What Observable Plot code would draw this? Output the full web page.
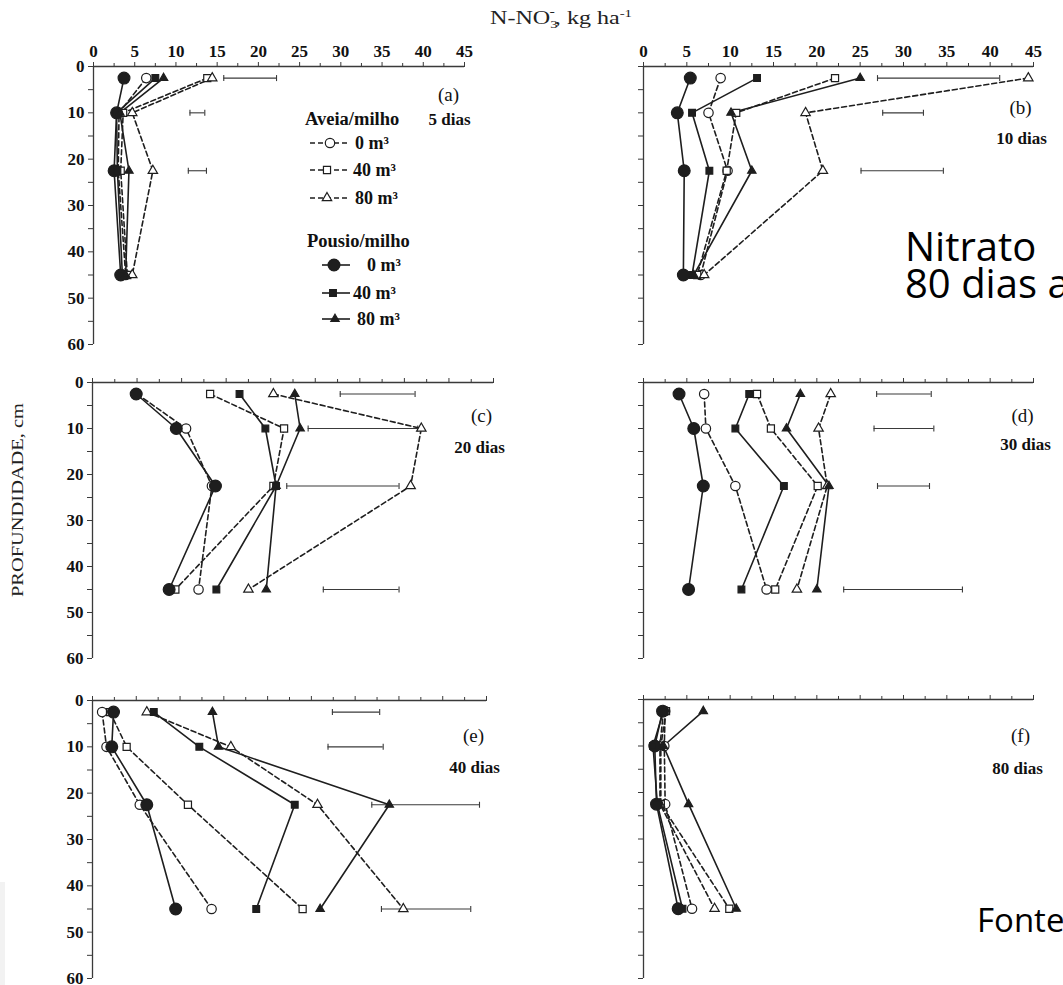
<!DOCTYPE html>
<html>
<head>
<meta charset="utf-8">
<script src="https://cdn.jsdelivr.net/npm/d3@7"></script>
<script src="https://cdn.jsdelivr.net/npm/@observablehq/plot@0.6"></script>
<style>
  html, body { margin: 0; padding: 0; background: #fff; }
  #root { position: relative; width: 1063px; height: 985px; overflow: hidden; background: #fff; }
  .panel { position: absolute; }
  .slide { position: absolute; font-family: "Open Sans", "Noto Sans", sans-serif; color: #000; white-space: nowrap; }
</style>
</head>
<body>
<div id="root"></div>
<script>
// ---------------- DATA ----------------
const depths = [2.5, 10, 22.5, 45];                 // cm
const panelIds = ["a", "b", "c", "d", "e", "f"];
const panelTags = ["(a)", "(b)", "(c)", "(d)", "(e)", "(f)"];
const panelDays = ["5 dias", "10 dias", "20 dias", "30 dias", "40 dias", "80 dias"];
const groupNames = ["Aveia/milho", "Pousio/milho"];
const doseLabels = ["0 m³", "40 m³", "80 m³"];
const xTicks = [0, 5, 10, 15, 20, 25, 30, 35, 40, 45];
const xMinorTicks = [2.5, 7.5, 12.5, 17.5, 22.5, 27.5, 32.5, 37.5, 42.5];
const yTicks = [0, 10, 20, 30, 40, 50, 60];
const yMinorTicks = [5, 15, 25, 35, 45, 55];

// N-NO3 (kg/ha) per panel (a..f), per depth (2.5, 10, 22.5, 45)
const aveia0 = [
  [6.4, 3.1, 3.0, 3.9], [8.9, 7.5, 9.7, 6.6], [5.0, 10.5, 13.4, 11.9],
  [7.0, 7.2, 10.6, 14.2], [1.1, 1.6, 5.4, 13.6], [2.5, 2.4, 2.5, 5.6]];
const aveia40 = [
  [13.8, 3.6, 3.3, 4.1], [22.1, 10.7, 9.6, 6.2], [13.2, 21.5, 20.3, 9.3],
  [13.1, 14.7, 20.1, 15.2], [2.0, 3.9, 10.9, 24.0], [2.6, 2.0, 2.0, 9.9]];
const aveia80 = [
  [14.4, 4.7, 7.2, 4.7], [44.4, 18.7, 20.7, 7.0], [20.3, 36.9, 35.7, 17.5],
  [21.6, 20.2, 21.2, 17.7], [6.2, 15.8, 25.7, 35.5], [2.3, 1.9, 1.9, 8.2]];
const pousio0 = [
  [3.7, 2.8, 2.5, 3.3], [5.4, 3.9, 4.7, 4.6], [4.9, 9.4, 13.8, 8.6],
  [4.1, 5.8, 6.9, 5.2], [2.4, 2.2, 6.2, 9.5], [2.2, 1.3, 1.5, 4.0]];
const pousio40 = [
  [7.5, 2.8, 2.9, 3.5], [13.1, 5.6, 7.6, 5.6], [16.5, 19.4, 20.6, 13.9],
  [12.2, 10.6, 16.2, 11.3], [7.0, 12.2, 23.1, 18.7], [2.3, 1.1, 1.6, 4.5]];
const pousio80 = [
  [8.5, 3.2, 4.3, 3.9], [25.0, 10.1, 12.5, 5.8], [22.7, 23.3, 20.6, 19.5],
  [18.1, 16.5, 21.4, 20.0], [13.7, 14.4, 33.9, 26.0], [6.9, 2.3, 5.2, 10.7]];

// LSD bars [low, high] per panel, per depth (null = none)
const lsdBars = [
  [[15.8, 22.2], [11.7, 13.5], [11.5, 13.7], null],
  [[27.0, 41.1], [27.6, 32.3], [25.1, 34.6], null],
  [[27.8, 36.2], [24.2, 36.5], [21.8, 34.4], [25.9, 34.4]],
  [[26.9, 33.2], [26.6, 33.5], [27.0, 33.0], [23.1, 36.8]],
  [[27.4, 32.8], [26.9, 33.2], [31.9, 44.2], [33.0, 43.2]],
  [null, null, null, null]];

const seriesKeys = ["aveia0", "aveia40", "aveia80", "pousio0", "pousio40", "pousio80"];
const seriesValues = {aveia0, aveia40, aveia80, pousio0, pousio40, pousio80};

// ---------------- STYLE / LAYOUT ----------------
const ink = "#1e1e1e";
const axisInk = "#3a3a3a";
const serif = "'Liberation Serif', 'Times New Roman', 'DejaVu Serif', serif";
const seriesStyle = {
  aveia0:   {symbol: "circle",   fill: "white", r: 4.7, dash: "5,3"},
  aveia40:  {symbol: "square",   fill: "white", r: 4.0, dash: "5,3"},
  aveia80:  {symbol: "triangle", fill: "white", r: 3.5, dash: "5,3"},
  pousio0:  {symbol: "circle",   fill: ink,     r: 5.9, dash: null},
  pousio40: {symbol: "square",   fill: ink,     r: 3.8, dash: null},
  pousio80: {symbol: "triangle", fill: ink,     r: 3.1, dash: null}
};
const layout = [
  {left: 93,  right: 464,  top: 66,  bottom: 344, yLabels: true,  xLabels: true,  tag: [-16, 21], days: [-15, 46]},
  {left: 643, right: 1033, top: 66,  bottom: 344, yLabels: false, xLabels: true,  tag: [-13, 34], days: [-12, 65]},
  {left: 92,  right: 493,  top: 382, bottom: 658, yLabels: true,  xLabels: false, tag: [-12, 26], days: [-14, 58]},
  {left: 643, right: 1033, top: 382, bottom: 658, yLabels: false, xLabels: false, tag: [-11, 26], days: [-8, 55]},
  {left: 92,  right: 486,  top: 700, bottom: 978, yLabels: true,  xLabels: false, tag: [-13, 28], days: [-12, 60]},
  {left: 643, right: 1033, top: 699, bottom: 978, yLabels: false, xLabels: false, tag: [-13, 29], days: [-16, 62]}
];
const M = {left: 50, top: 36, right: 48, bottom: 6};
const tickFont = {fontSize: 17, fontWeight: "bold", fontFamily: serif, fill: "#111"};

// build tidy tables
const rows = [];
seriesKeys.forEach(k => panelIds.forEach((p, pi) => depths.forEach((d, di) => {
  rows.push({panel: p, series: k, depth: d, value: seriesValues[k][pi][di]});
})));
const bars = [];
panelIds.forEach((p, pi) => depths.forEach((d, di) => {
  const b = lsdBars[pi][di];
  if (b) bars.push({panel: p, depth: d, lo: b[0], hi: b[1]});
}));
const caps = bars.flatMap(b => [{panel: b.panel, depth: b.depth, x: b.lo}, {panel: b.panel, depth: b.depth, x: b.hi}]);

const capSymbol = {draw(ctx) { ctx.moveTo(0, -3); ctx.lineTo(0, 3); }};

const root = document.getElementById("root");

panelIds.forEach((p, pi) => {
  const L = layout[pi];
  const w = L.right - L.left + M.left + M.right;
  const h = L.bottom - L.top + M.top + M.bottom;
  const pr = rows.filter(r => r.panel === p);
  const marks = [
    Plot.ruleY([0], {stroke: axisInk, strokeWidth: 1.3}),
    Plot.ruleX([0], {stroke: axisInk, strokeWidth: 1.3}),
    Plot.axisX({anchor: "top", ticks: xTicks, tickSize: 5, tickPadding: 5, stroke: axisInk, ...tickFont,
      tickFormat: L.xLabels ? (d => String(d)) : (() => ""), label: null}),
    Plot.axisX({anchor: "top", ticks: xMinorTicks, tickSize: 4, stroke: axisInk, tickFormat: () => "", label: null}),
    Plot.axisY({anchor: "left", ticks: yTicks, tickSize: 5, tickPadding: 4, stroke: axisInk, ...tickFont,
      tickFormat: L.yLabels ? (d => String(d)) : (() => ""), label: null}),
    Plot.axisY({anchor: "left", ticks: yMinorTicks, tickSize: 5, stroke: axisInk, tickFormat: () => "", label: null}),
    Plot.ruleY(bars.filter(b => b.panel === p), {y: "depth", x1: "lo", x2: "hi", stroke: axisInk, strokeWidth: 1.1}),
    Plot.dot(caps.filter(c => c.panel === p), {x: "x", y: "depth", symbol: capSymbol, stroke: axisInk, strokeWidth: 1.1, fill: "none"})
  ];
  seriesKeys.forEach(k => {
    const s = seriesStyle[k];
    marks.push(Plot.line(pr.filter(r => r.series === k), {x: "value", y: "depth", stroke: ink, strokeWidth: 1.6,
      strokeDasharray: s.dash || undefined}));
  });
  seriesKeys.forEach(k => {
    const s = seriesStyle[k];
    marks.push(Plot.dot(pr.filter(r => r.series === k), {x: "value", y: "depth", symbol: s.symbol, r: s.r,
      fill: s.fill, stroke: ink, strokeWidth: 1.2}));
  });
  marks.push(Plot.text([panelTags[pi]], {frameAnchor: "top-right", text: d => d, dx: L.tag[0], dy: L.tag[1],
    textAnchor: "middle", fontSize: 19, fontWeight: "normal", fill: "#111"}));
  marks.push(Plot.text([panelDays[pi]], {frameAnchor: "top-right", text: d => d, dx: L.days[0], dy: L.days[1],
    textAnchor: "middle", fontSize: 17, fontWeight: "bold", fill: "#111"}));

  const svg = Plot.plot({
    width: w, height: h,
    marginLeft: M.left, marginRight: M.right, marginTop: M.top, marginBottom: M.bottom,
    x: {domain: [0, 45]},
    y: {domain: [0, 60], reverse: true},
    style: {fontFamily: serif, fontSize: "16px", fontWeight: "bold", color: "#111", background: "transparent",
      overflow: "visible", maxWidth: "none"},
    marks
  });
  const div = document.createElement("div");
  div.className = "panel";
  div.style.left = (L.left - M.left) + "px";
  div.style.top = (L.top - M.top) + "px";
  div.appendChild(svg);
  root.appendChild(div);
});

// ------------- overlay: axis titles + legend -------------
const ov = d3.select(root).append("svg")
  .attr("width", 1063).attr("height", 985)
  .style("position", "absolute").style("left", 0).style("top", 0)
  .style("pointer-events", "none")
  .style("font-family", serif);

// top title
const t = ov.append("text").attr("x", 490).attr("y", 24).attr("font-size", 18).attr("fill", "#222")
  .attr("textLength", 142).attr("lengthAdjust", "spacingAndGlyphs");
t.append("tspan").text("N-NO");
t.append("tspan").attr("font-size", 11).attr("dy", 4).text("3");
t.append("tspan").attr("font-size", 12).attr("dx", -6).attr("dy", -12).text("-");
t.append("tspan").attr("dy", 8).text(", kg ha");
t.append("tspan").attr("font-size", 11).attr("dy", -7).text("-1");

// y label
ov.append("text").attr("transform", "translate(23,500) rotate(-90)")
  .attr("text-anchor", "middle").attr("font-size", 16).attr("fill", "#222")
  .attr("textLength", 194).attr("lengthAdjust", "spacingAndGlyphs")
  .text("PROFUNDIDADE, cm");

// legend inside panel (a)
const lg = ov.append("g").attr("font-weight", "bold").attr("fill", "#111");
lg.append("text").attr("x", 305).attr("y", 125).attr("font-size", 18.5).text(groupNames[0]);
lg.append("text").attr("x", 307).attr("y", 247).attr("font-size", 18.5).text(groupNames[1]);
const legendItems = [
  {key: "aveia0",   y: 143, x1: 310, x2: 348, mx: 330, tx: 355},
  {key: "aveia40",  y: 170, x1: 310, x2: 348, mx: 327, tx: 353},
  {key: "aveia80",  y: 198, x1: 310, x2: 348, mx: 327, tx: 355},
  {key: "pousio0",  y: 265, x1: 322, x2: 350, mx: 334, tx: 367},
  {key: "pousio40", y: 293, x1: 322, x2: 350, mx: 333, tx: 353},
  {key: "pousio80", y: 319, x1: 322, x2: 350, mx: 335, tx: 357}
];
const symMap = {circle: d3.symbolCircle, square: d3.symbolSquare, triangle: d3.symbolTriangle};
legendItems.forEach((it, i) => {
  const s = seriesStyle[it.key];
  lg.append("line").attr("x1", it.x1).attr("x2", it.x2).attr("y1", it.y).attr("y2", it.y)
    .attr("stroke", ink).attr("stroke-width", 1.6).attr("stroke-dasharray", s.dash || null);
  lg.append("path").attr("transform", `translate(${it.mx},${it.y})`)
    .attr("d", d3.symbol(symMap[s.symbol], Math.PI * s.r * s.r)())
    .attr("fill", s.fill).attr("stroke", ink).attr("stroke-width", 1.2);
  lg.append("text").attr("x", it.tx).attr("y", it.y + 6).attr("font-size", 18).text(doseLabels[i % 3]);
});

// slide overlay texts (cropped at right edge as in the slide)
const nit = document.createElement("div");
nit.className = "slide";
nit.style.cssText += "left:905px;top:227px;font-size:40px;line-height:37px;";
nit.innerHTML = "Nitrato<br>80 dias após";
root.appendChild(nit);

const fonte = document.createElement("div");
fonte.className = "slide";
fonte.style.cssText += "left:977px;top:902px;font-size:33px;line-height:36px;";
fonte.textContent = "Fonte:";
root.appendChild(fonte);

const shade = document.createElement("div");
shade.style.cssText = "position:absolute;left:0;top:882px;width:5px;height:103px;background:#f2f2f2;";
root.appendChild(shade);
</script>
</body>
</html>
